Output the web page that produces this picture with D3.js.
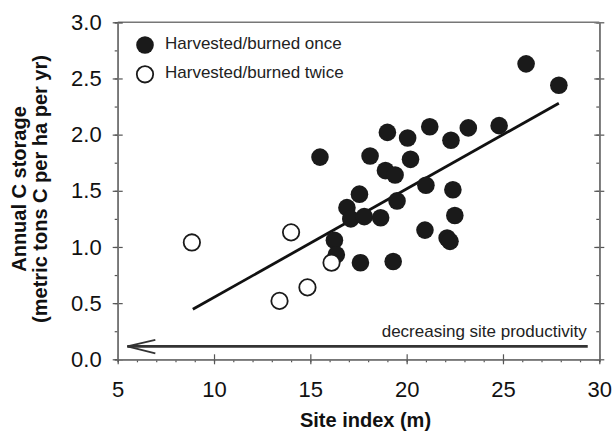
<!DOCTYPE html>
<html>
<head>
<meta charset="utf-8">
<script src="https://cdn.jsdelivr.net/npm/d3@7"></script>
<style>
  body { margin: 0; background: #fff; }
  svg { display: block; }
</style>
</head>
<body>
<script>
// site index (m) and annual C storage for stands harvested/burned once
const onceX = [26.2, 27.9, 19.0, 20.05, 21.2, 22.3, 23.2, 24.8, 15.5, 18.1, 20.2, 18.9, 19.4,
               21.0, 22.4, 17.55, 19.5, 16.9, 17.1, 17.8, 18.65, 22.5, 20.95, 22.1, 22.25,
               16.25, 16.35, 17.6, 19.3];
const onceY = [2.63, 2.44, 2.02, 1.97, 2.07, 1.95, 2.06, 2.08, 1.80, 1.81, 1.78, 1.68, 1.64,
               1.55, 1.51, 1.47, 1.41, 1.35, 1.25, 1.27, 1.26, 1.28, 1.15, 1.08, 1.05,
               1.06, 0.93, 0.86, 0.87];
// harvested/burned twice
const twiceX = [8.85, 14.0, 16.1, 14.85, 13.4];
const twiceY = [1.04, 1.13, 0.86, 0.64, 0.52];
// fitted line end points
const fitX = [8.9, 27.9];
const fitY = [0.445, 2.28];
// arrow along the bottom
const arrowX = [29.4, 5.5];
const arrowY = 0.115;

const legendLabels = ["Harvested/burned once", "Harvested/burned twice"];
const xTicks = [5, 10, 15, 20, 25, 30];
const yTicks = [0, 0.5, 1, 1.5, 2, 2.5, 3];
const xMinor = d3.range(5, 31, 1);
const yMinor = d3.range(0, 3.01, 0.25);

const width = 614, height = 433;
const plotL = 117.7, plotR = 599.3, plotT = 22.3, plotB = 359.3;

const svg = d3.select("body").append("svg")
    .attr("width", width)
    .attr("height", height);

const x = d3.scaleLinear().domain([5, 30]).range([plotL, plotR]);
const y = d3.scaleLinear().domain([0, 3]).range([plotB, plotT]);

const axisColor = "#777";

function styleAxis(g) {
    g.selectAll(".domain").attr("stroke", axisColor).attr("stroke-width", 1.5);
    g.selectAll(".tick line").attr("stroke", "#555").attr("stroke-width", 1.2);
    g.selectAll("text").attr("font-family", "Liberation Sans, Arial, sans-serif")
        .attr("font-size", 22).attr("fill", "#111");
}

// frame: top line
svg.append("line")
    .attr("x1", plotL).attr("x2", plotR)
    .attr("y1", plotT).attr("y2", plotT)
    .attr("stroke", axisColor).attr("stroke-width", 1.5);

// left axis
svg.append("g")
    .attr("transform", `translate(${plotL},0)`)
    .call(d3.axisLeft(y).tickValues(yMinor).tickSize(3).tickFormat(""))
    .call(styleAxis);
svg.append("g")
    .attr("transform", `translate(${plotL},0)`)
    .call(d3.axisLeft(y).tickValues(yTicks).tickSize(-5).tickFormat(""))
    .call(styleAxis);
svg.append("g")
    .attr("transform", `translate(${plotL},0)`)
    .call(d3.axisLeft(y).tickValues(yTicks).tickSizeInner(5).tickSizeOuter(0)
        .tickPadding(11).tickFormat(d3.format(".1f")))
    .call(styleAxis);

// right axis
svg.append("g")
    .attr("transform", `translate(${plotR},0)`)
    .call(d3.axisRight(y).tickValues(yMinor).tickSize(-3).tickFormat(""))
    .call(styleAxis);
svg.append("g")
    .attr("transform", `translate(${plotR},0)`)
    .call(d3.axisRight(y).tickValues(yTicks.slice(1, 6)).tickSize(5).tickFormat(""))
    .call(styleAxis);
svg.append("g")
    .attr("transform", `translate(${plotR},0)`)
    .call(d3.axisRight(y).tickValues(yTicks.slice(1, 6)).tickSize(-5).tickFormat(""))
    .call(styleAxis);

// bottom axis
svg.append("g")
    .attr("transform", `translate(0,${plotB})`)
    .call(d3.axisBottom(x).tickValues(xMinor).tickSize(3).tickFormat(""))
    .call(styleAxis);
svg.append("g")
    .attr("transform", `translate(0,${plotB})`)
    .call(d3.axisBottom(x).tickValues(xTicks.slice(1, 5)).tickSize(-5).tickFormat(""))
    .call(styleAxis);
svg.append("g")
    .attr("transform", `translate(0,${plotB})`)
    .call(d3.axisBottom(x).tickValues(xTicks).tickSizeInner(5).tickSizeOuter(0)
        .tickPadding(17).tickFormat(d3.format("d")))
    .call(styleAxis);

// axis titles
svg.append("text")
    .attr("x", (plotL + plotR) / 2 + 7)
    .attr("y", 427)
    .attr("text-anchor", "middle")
    .attr("font-family", "Liberation Sans, Arial, sans-serif")
    .attr("font-weight", "bold")
    .attr("font-size", 20)
    .attr("fill", "#111")
    .text("Site index (m)");

const yTitle = svg.append("text")
    .attr("transform", "translate(0,189) rotate(-90)")
    .attr("text-anchor", "middle")
    .attr("font-family", "Liberation Sans, Arial, sans-serif")
    .attr("font-weight", "bold")
    .attr("font-size", 20)
    .attr("fill", "#111");
yTitle.append("tspan").attr("x", 0).attr("y", 26).text("Annual C storage");
yTitle.append("tspan").attr("x", 0).attr("y", 47).text("(metric tons C per ha per yr)");

// fitted line
svg.append("line")
    .attr("x1", x(fitX[0])).attr("y1", y(fitY[0]))
    .attr("x2", x(fitX[1])).attr("y2", y(fitY[1]))
    .attr("stroke", "#111").attr("stroke-width", 2.8);

// points
const ink = "#1a1a1a";
svg.append("g").selectAll("circle")
    .data(d3.range(onceX.length))
    .join("circle")
    .attr("cx", i => x(onceX[i]))
    .attr("cy", i => y(onceY[i]))
    .attr("r", 8.8)
    .attr("fill", ink);

svg.append("g").selectAll("circle")
    .data(d3.range(twiceX.length))
    .join("circle")
    .attr("cx", i => x(twiceX[i]))
    .attr("cy", i => y(twiceY[i]))
    .attr("r", 8.2)
    .attr("fill", "#fff")
    .attr("stroke", ink)
    .attr("stroke-width", 1.8);

// legend
const legend = svg.append("g");
legendLabels.forEach((lab, i) => {
    const cy = 45 + i * 29.3;
    legend.append("circle")
        .attr("cx", 145).attr("cy", cy)
        .attr("r", i === 0 ? 8.8 : 8.2)
        .attr("fill", i === 0 ? ink : "#fff")
        .attr("stroke", i === 0 ? "none" : ink)
        .attr("stroke-width", 1.8);
    legend.append("text")
        .attr("x", 165).attr("y", cy + 3.8)
        .attr("font-family", "Liberation Sans, Arial, sans-serif")
        .attr("font-size", 17)
        .attr("fill", "#222")
        .text(lab);
});

// decreasing productivity arrow
const ay = y(arrowY);
const tipX = x(arrowX[1]);
svg.append("line")
    .attr("x1", x(arrowX[0])).attr("y1", ay)
    .attr("x2", tipX).attr("y2", ay)
    .attr("stroke", "#333").attr("stroke-width", 2.6);
svg.append("path")
    .attr("d", `M${tipX + 28},${ay - 6.5} L${tipX},${ay} L${tipX + 28},${ay + 7}`)
    .attr("fill", "none")
    .attr("stroke", "#333")
    .attr("stroke-width", 1.8);
svg.append("text")
    .attr("x", x(arrowX[0]) - 1)
    .attr("y", ay - 9)
    .attr("text-anchor", "end")
    .attr("font-family", "Liberation Sans, Arial, sans-serif")
    .attr("font-size", 17)
    .attr("fill", "#222")
    .text("decreasing site productivity");
</script>
</body>
</html>
